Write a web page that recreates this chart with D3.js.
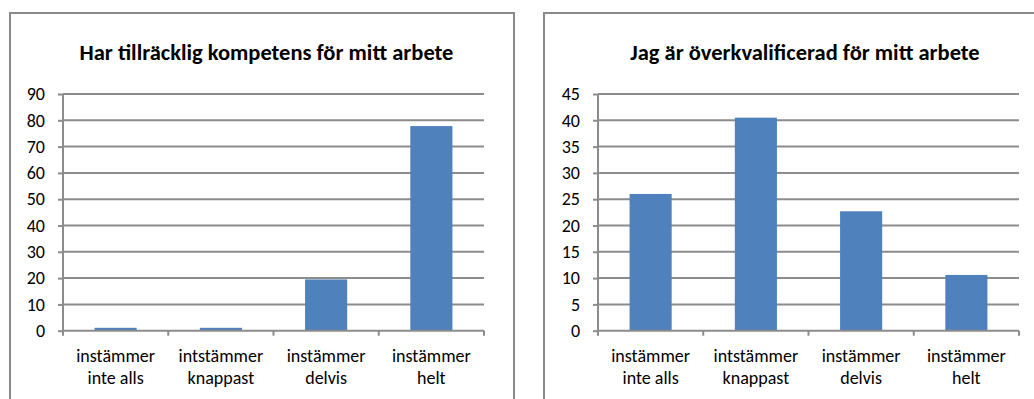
<!DOCTYPE html>
<html>
<head>
<meta charset="utf-8">
<script src="https://cdn.jsdelivr.net/npm/d3@7"></script>
<style>
  html, body { margin: 0; padding: 0; background: #fff; }
  svg { display: block; }
  text { font-family: Carlito, Lato, "Open Sans", sans-serif; fill: #000; }
</style>
</head>
<body>
<svg id="chart" width="1034" height="399"></svg>
<script>
// Survey answers: share of respondents (%) per answer category
const categories = [["instämmer", "inte alls"], ["intstämmer", "knappast"], ["instämmer", "delvis"], ["instämmer", "helt"]];
const competenceValues = [1.1, 1.1, 19.5, 77.8];
const overqualifiedValues = [26.0, 40.5, 22.7, 10.6];
const competenceTicks = [0, 10, 20, 30, 40, 50, 60, 70, 80, 90];
const overqualifiedTicks = [0, 5, 10, 15, 20, 25, 30, 35, 40, 45];
const titles = ["Har tillräcklig kompetens för mitt arbete", "Jag är överkvalificerad för mitt arbete"];

const svg = d3.select("#chart");
const gridColor = "#8c8c8c";
const barColor = "#4f81bd";
const labelFont = "Carlito, Lato, 'Open Sans', sans-serif";

function drawPanel(opts) {
  const g = svg.append("g");

  // chart frame
  g.append("rect")
    .attr("x", opts.frame[0]).attr("y", opts.frame[1])
    .attr("width", opts.frame[2]).attr("height", opts.frame[3])
    .attr("fill", "#fff").attr("stroke", "#8a8a8a").attr("stroke-width", 2);

  const x = d3.scaleBand()
    .domain(d3.range(categories.length))
    .range([opts.left, opts.right])
    .paddingInner(0.6).paddingOuter(0.3);
  const xb = d3.scaleBand().domain(d3.range(categories.length)).range([opts.left, opts.right]);
  const y = d3.scaleLinear().domain([0, d3.max(opts.ticks)]).range([opts.bottom, opts.top]);

  // title
  g.append("text")
    .attr("x", opts.titleX).attr("y", 60)
    .attr("text-anchor", "middle")
    .attr("font-weight", "bold").attr("font-size", 22.5)
    .text(opts.title);

  // gridlines
  g.append("g").selectAll("line").data(opts.ticks.filter(t => t > 0)).join("line")
    .attr("x1", opts.left).attr("x2", opts.right)
    .attr("y1", d => y(d)).attr("y2", d => y(d))
    .attr("stroke", gridColor).attr("stroke-width", 2);

  // y axis
  const yAxis = g.append("g")
    .attr("transform", `translate(${opts.left},0)`)
    .call(d3.axisLeft(y).tickValues(opts.ticks).tickSize(5).tickPadding(13));
  yAxis.attr("font-size", null).attr("font-family", null);
  yAxis.select(".domain").attr("stroke", gridColor).attr("stroke-width", 2)
    .attr("d", `M0,${opts.bottom}V${opts.top}`);
  yAxis.selectAll(".tick line").attr("stroke", gridColor).attr("stroke-width", 2);
  yAxis.selectAll(".tick text").attr("fill", "#000")
    .style("font-size", "18px").style("font-family", labelFont);

  // bars
  g.append("g").selectAll("rect").data(opts.values).join("rect")
    .attr("x", (d, i) => x(i)).attr("width", x.bandwidth())
    .attr("y", d => y(d)).attr("height", d => opts.bottom - y(d))
    .attr("fill", barColor);

  // x axis baseline and category separators
  g.append("line")
    .attr("x1", opts.left).attr("x2", opts.right)
    .attr("y1", opts.bottom).attr("y2", opts.bottom)
    .attr("stroke", gridColor).attr("stroke-width", 2);
  const bounds = d3.range(categories.length + 1).map(i => i < categories.length ? xb(i) : opts.right);
  g.append("g").selectAll("line").data(bounds).join("line")
    .attr("x1", d => d).attr("x2", d => d)
    .attr("y1", opts.bottom).attr("y2", opts.bottom + 5)
    .attr("stroke", gridColor).attr("stroke-width", 2);

  // category labels (two lines)
  const labels = g.append("g").selectAll("text").data(categories).join("text")
    .attr("text-anchor", "middle").style("font-size", "18px");
  labels.each(function(d, i) {
    const t = d3.select(this);
    const cx = xb(i) + xb.bandwidth() / 2;
    d.forEach((line, k) => {
      t.append("tspan").attr("x", cx).attr("y", 362 + k * 22).text(line);
    });
  });
}

drawPanel({
  frame: [10, 13, 504, 420],
  left: 63, right: 484, top: 94, bottom: 330.7,
  ticks: competenceTicks, values: competenceValues,
  title: titles[0], titleX: 266.5
});

drawPanel({
  frame: [544, 13, 520, 420],
  left: 598, right: 1019, top: 94, bottom: 330.7,
  ticks: overqualifiedTicks, values: overqualifiedValues,
  title: titles[1], titleX: 805
});
</script>
</body>
</html>
